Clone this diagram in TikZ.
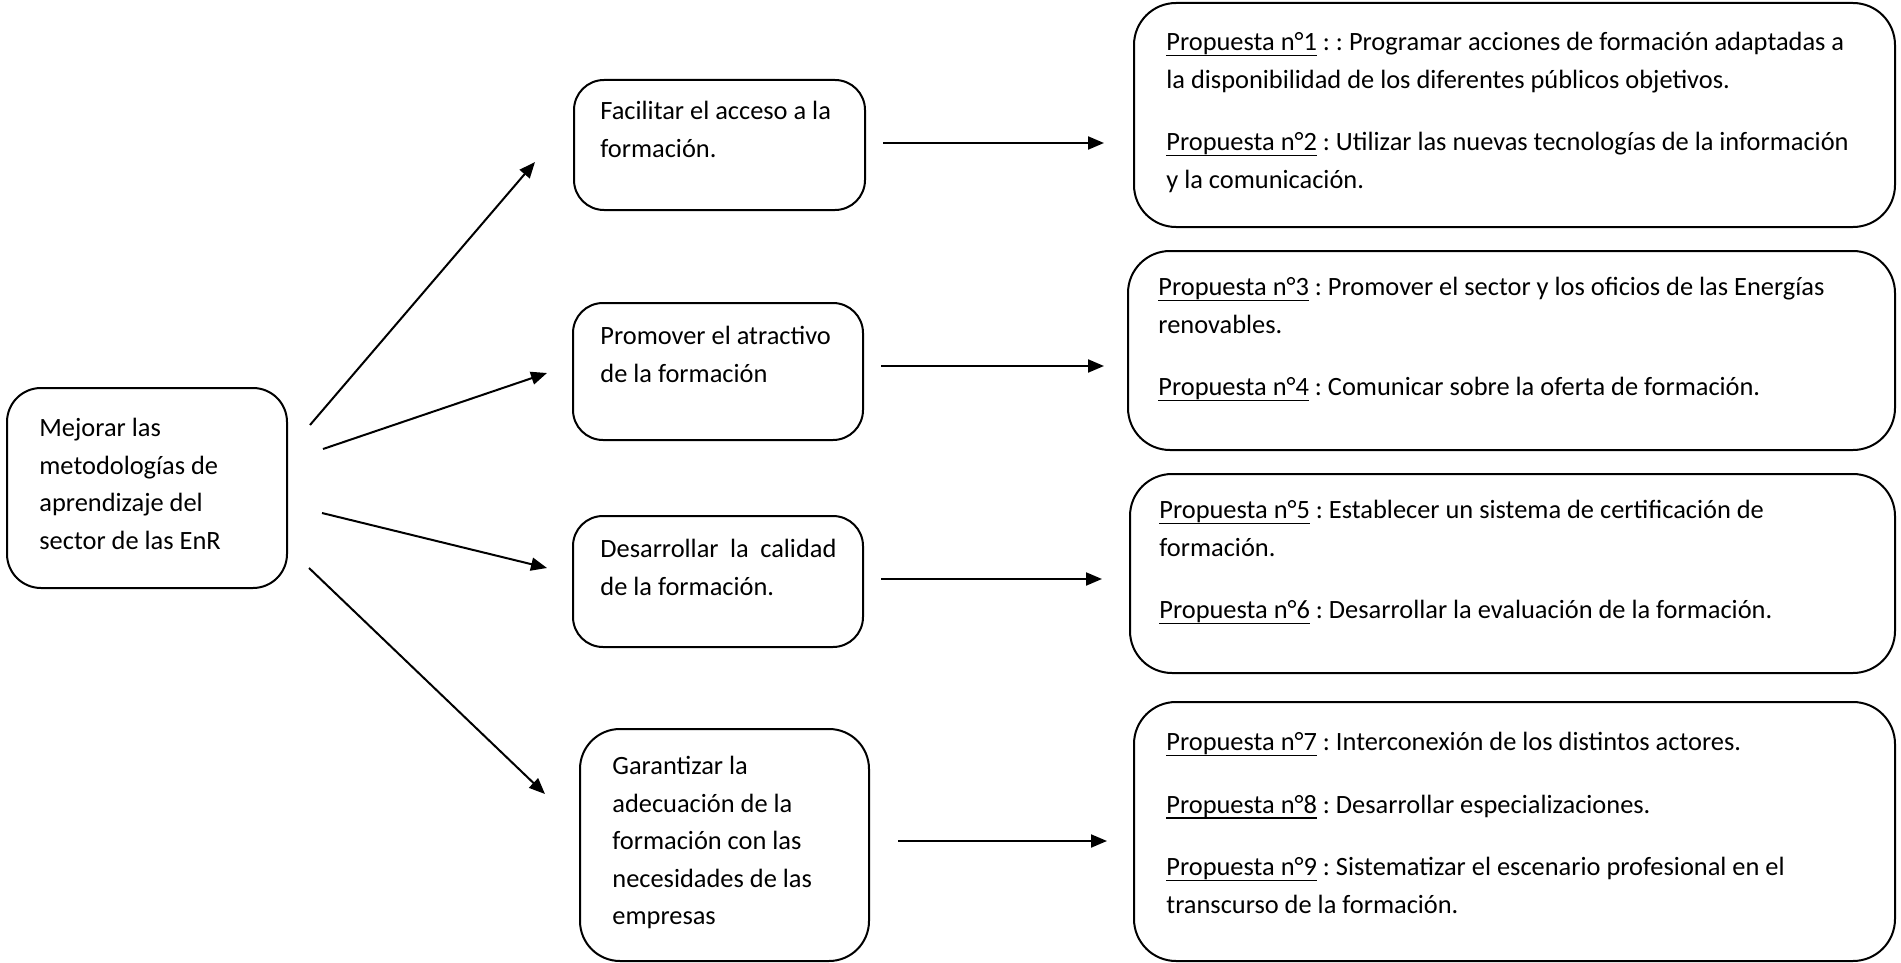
\documentclass[tikz,border=0pt]{standalone}
\usepackage{fontspec}
\setmainfont{Carlito}
\usetikzlibrary{arrows.meta,fit}
\newcommand\propu[1]{\setbox0\hbox{Propuesta n°#1}\rlap{\rule[-2.9pt]{\wd0}{0.8pt}}\box0\relax}
\newcommand\fst{\rule{0pt}{11pt}}
\begin{document}
\begin{tikzpicture}[x=0.5pt,y=-0.5pt,
  box/.style={draw, line width=1pt, rounded corners=15pt, inner sep=0pt},
  pbox/.style={draw, line width=1pt, rounded corners=21pt, inner sep=0pt},
  txt/.style={anchor=north west, inner sep=0pt, align=left, font=\fontsize{13.2pt}{18.8pt}\selectfont\frenchspacing},
  arr/.style={line width=1pt, -{Triangle[length=8pt,width=6.5pt]}}]
\useasboundingbox (0,0) rectangle (1901,963);

% main box
\node[box, rounded corners=17pt, fit={(7,388) (287,588)}] (main) {};
\node[txt] (mainT) at (39,414) {\fst Mejorar las\\metodologías de\\aprendizaje del\\sector de las EnR};

% middle boxes
\node[box, fit={(574,80) (865,210)}] (bA) {};
\node[txt] (tA) at (600,97) {\fst Facilitar el acceso a la\\formación.};
\node[box, fit={(573,303) (863,440)}] (bB) {};
\node[txt] (tB) at (600,322) {\fst Promover el atractivo\\de la formación};
\node[box, fit={(573,516) (863,647)}] (bC) {};
\node[txt] (tC) at (600,535) {\fst\makebox[118pt][s]{Desarrollar la calidad}\\de la formación.};
\node[box, rounded corners=20pt, fit={(580,729) (869,961)}] (bD) {};
\node[txt] (tD) at (612,752) {\fst Garantizar la\\adecuación de la\\formación con las\\necesidades de las\\empresas};

% right boxes
\node[pbox, fit={(1134,3) (1895,227)}] (p1) {};
\node[txt] (tp1) at (1166,28) {\fst\propu{1} : : Programar acciones de formación adaptadas a\\la disponibilidad de los diferentes públicos objetivos.\\[12.5pt]\propu{2} : Utilizar las nuevas tecnologías de la información\\y la comunicación.};
\node[pbox, fit={(1128,251) (1895,450)}] (p2) {};
\node[txt] (tp2) at (1158,273) {\fst\propu{3} : Promover el sector y los oficios de las Energías\\renovables.\\[12.5pt]\propu{4} : Comunicar sobre la oferta de formación.};
\node[pbox, fit={(1130,474) (1895,673)}] (p3) {};
\node[txt] (tp3) at (1159,496) {\fst\propu{5} : Establecer un sistema de certificación de\\formación.\\[12.5pt]\propu{6} : Desarrollar la evaluación de la formación.};
\node[pbox, fit={(1134,702) (1895,961)}] (p4) {};
\node[txt] (tp4) at (1166,728) {\fst\propu{7} : Interconexión de los distintos actores.\\[12.5pt]\propu{8} : Desarrollar especializaciones.\\[12.5pt]\propu{9} : Sistematizar el escenario profesional en el\\transcurso de la formación.};

% arrow end points
\coordinate (s1) at (310,425); \coordinate (e1) at (535,162);
\coordinate (s2) at (323,449); \coordinate (e2) at (547,373);
\coordinate (s3) at (322,513); \coordinate (e3) at (547,568);
\coordinate (s4) at (309,568); \coordinate (e4) at (545,794);
\coordinate (hA1) at (883,143); \coordinate (hA2) at (1104,143);
\coordinate (hB1) at (881,366); \coordinate (hB2) at (1104,366);
\coordinate (hC1) at (881,579); \coordinate (hC2) at (1102,579);
\coordinate (hD1) at (898,841); \coordinate (hD2) at (1107,841);

\draw[arr] (s1) -- (e1);
\draw[arr] (s2) -- (e2);
\draw[arr] (s3) -- (e3);
\draw[arr] (s4) -- (e4);
\draw[arr] (hA1) -- (hA2);
\draw[arr] (hB1) -- (hB2);
\draw[arr] (hC1) -- (hC2);
\draw[arr] (hD1) -- (hD2);
\end{tikzpicture}
\end{document}
